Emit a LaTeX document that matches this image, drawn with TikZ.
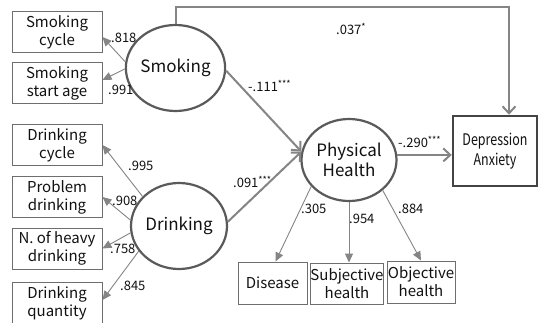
\documentclass[tikz,border=0pt]{standalone}
\usepackage{fontspec}
\setmainfont{Noto Sans CJK KR}
\usetikzlibrary{arrows.meta,shapes.geometric}
\definecolor{linegray}{HTML}{858585}
\definecolor{ellgray}{HTML}{5A5A5A}
\definecolor{boxgray}{HTML}{6E6E6E}
\definecolor{depgray}{HTML}{444444}
\definecolor{txt}{HTML}{111111}
\begin{document}
\begin{tikzpicture}[x=1pt,y=-1pt,
  every node/.style={text=txt},
  obs/.style={draw=boxgray, line width=0.9pt, fill=white, minimum width=90pt, minimum height=41pt, inner sep=0pt, align=center, font=\fontsize{15}{18}\selectfont},
  lat/.style={ellipse, draw=ellgray, line width=2.2pt, fill=white, minimum width=95pt, minimum height=85pt, inner sep=0pt, align=center, font=\fontsize{17}{20}\selectfont},
  ind/.style={draw=linegray, line width=0.9pt, -{Triangle[length=9pt,width=8pt]}},
  struct/.style={draw=linegray, line width=2pt, -{Straight Barb[length=7pt,width=13pt,line width=2pt]}},
  lbl/.style={anchor=west, inner sep=0pt, font=\fontsize{13}{13}\selectfont}]
\useasboundingbox (0,0) rectangle (541,322);
\fill[white] (0,0) rectangle (541,322);

% observed indicators
\node[obs] (sc) at (57,32) {Smoking\\cycle};
\node[obs] (ssa) at (57,83) {Smoking\\start age};
\node[obs] (dc) at (57,145) {Drinking\\cycle};
\node[obs] (pd) at (57,197) {Problem\\drinking};
\node[obs] (nh) at (57,248.5) {N. of heavy\\drinking};
\node[obs] (dq) at (57,303) {Drinking\\quantity};
\node[obs, minimum width=69pt, minimum height=42pt] (dis) at (272.5,283) {Disease};
\node[obs, minimum width=70pt, minimum height=41pt] (sub) at (347,283.5) {Subjective\\health};
\node[obs, minimum width=68pt, minimum height=42pt] (obj) at (421,282) {Objective\\health};
\node[draw=depgray, line width=2.5pt, minimum width=84pt, minimum height=70pt, inner sep=0pt, align=center, font=\fontsize{16}{20}\selectfont] (dep) at (495,151) {\scalebox{0.78}[1]{Depression}\\\scalebox{0.78}[1]{Anxiety}};

% latent variables
\node[lat, minimum width=95pt, minimum height=86pt] (sm) at (175.5,68) {Smoking};
\node[lat, minimum width=96pt, minimum height=86pt] (dr) at (179,226) {Drinking};
\node[lat, minimum width=95pt, minimum height=82pt] (ph) at (349,160) {Physical\\Health};

% indicator arrows
\draw[ind] (sm.173) -- ([yshift=-5pt]sc.east);
\draw[ind] (sm.181) -- ([yshift=3pt]ssa.east);
\draw[ind] (dr.141) -- (dc.east);
\draw[ind] (dr.173) -- (pd.east);
\draw[ind] (dr.188) -- (nh.east);
\draw[ind] (dr.212) -- ([yshift=3pt]dq.east);
\draw[ind] (ph.215) -- ([xshift=3pt]dis.north);
\draw[ind] (ph.south) -- (ph.south |- sub.north);
\draw[ind] (ph.318) -- (obj.north);

% structural paths
\draw[struct] (sm.-3) -- (ph.170);
\draw[struct] (dr.5) -- (ph.170);
\draw[struct] (ph.6) -- (ph.6 -| dep.west);
\draw[struct] (sm.north) -- ++(0,-17) -| ([xshift=14pt]dep.north);

% labels
\node[lbl] (l1) at (111,38) {.818};
\node[lbl] (l2) at (108,90) {.991};
\node[lbl] (l3) at (128,166) {.995};
\node[lbl] (l4) at (112,201) {.908};
\node[lbl] (l5) at (110,249) {.758};
\node[lbl] (l6) at (120,286) {.845};
\node[lbl] (l7) at (248,86) {-.111\textsuperscript{***}};
\node[lbl] (l8) at (233,182) {.091\textsuperscript{***}};
\node[lbl] (l9) at (336,29) {.037\textsuperscript{*}};
\node[lbl] (l10) at (398,142) {-.290\textsuperscript{***}};
\node[lbl] (l11) at (301,209) {.305};
\node[lbl] (l12) at (349,219) {.954};
\node[lbl] (l13) at (398,209) {.884};
\end{tikzpicture}
\end{document}
